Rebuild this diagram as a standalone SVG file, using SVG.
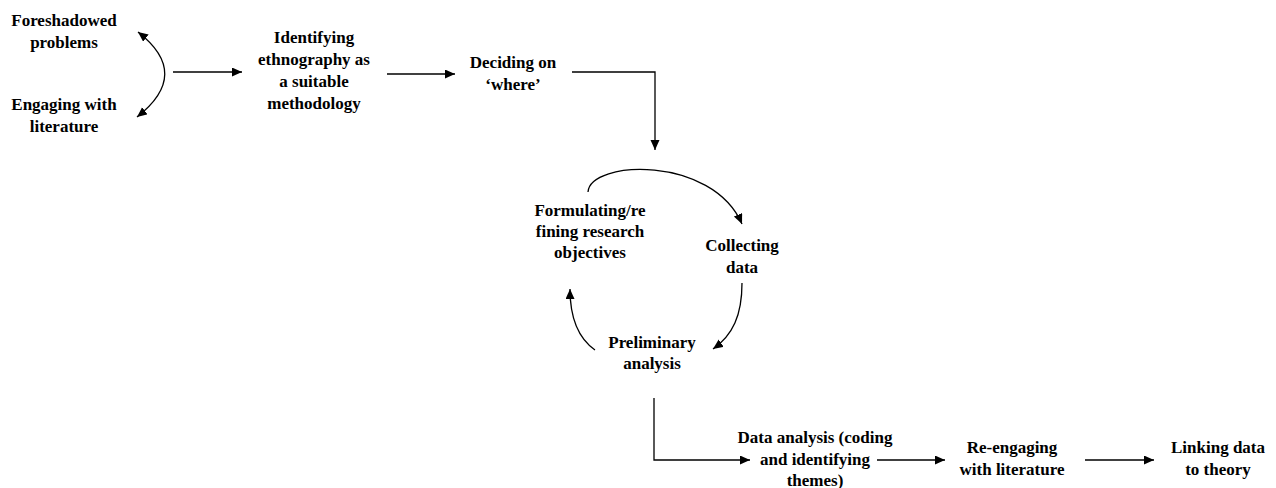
<svg xmlns="http://www.w3.org/2000/svg" width="1276" height="488" viewBox="0 0 1276 488">
  <style>
    text { font-family: "Liberation Serif", "Times New Roman", serif; font-size: 17px; font-weight: bold; fill: #000; text-anchor: middle; }
    .edge { fill: none; stroke: #000; stroke-width: 1.3; }
  </style>
  <defs>
    <marker id="head" markerUnits="userSpaceOnUse" markerWidth="11" markerHeight="10" refX="10" refY="4.5" orient="auto-start-reverse">
      <path d="M0,0 L10,4.5 L0,9 z" fill="#000"/>
    </marker>
  </defs>
  <rect width="1276" height="488" fill="#fff"/>

  <g id="connectors">
    <!-- two-way curve between the first two ideas -->
    <path class="edge" d="M138,32 Q192,74 137,117" marker-start="url(#head)" marker-end="url(#head)"/>
    <path class="edge" d="M173,72 L242,72" marker-end="url(#head)"/>
    <path class="edge" d="M387,74 L455,74" marker-end="url(#head)"/>
    <path class="edge" d="M572,72 L655,72 L655,150" marker-end="url(#head)"/>
    <!-- research cycle -->
    <path class="edge" d="M588,192 C590,160 712,155 742,224" marker-end="url(#head)"/>
    <path class="edge" d="M742,283 C742,315 733,335 713,349" marker-end="url(#head)"/>
    <path class="edge" d="M595,350 C578,338 570,318 570,289" marker-end="url(#head)"/>
    <!-- final stage -->
    <path class="edge" d="M654,398 L654,460 L750,460" marker-end="url(#head)"/>
    <path class="edge" d="M877,460 L945,460" marker-end="url(#head)"/>
    <path class="edge" d="M1085,460 L1154,460" marker-end="url(#head)"/>
  </g>

  <g id="foreshadowed">
    <text x="64" y="26">Foreshadowed</text>
    <text x="64" y="48">problems</text>
  </g>
  <g id="engaging">
    <text x="64" y="110">Engaging with</text>
    <text x="64" y="132">literature</text>
  </g>
  <g id="identifying">
    <text x="314" y="43">Identifying</text>
    <text x="314" y="65">ethnography as</text>
    <text x="314" y="87">a suitable</text>
    <text x="314" y="109">methodology</text>
  </g>
  <g id="deciding">
    <text x="513" y="68">Deciding on</text>
    <text x="513" y="90">‘where’</text>
  </g>
  <g id="formulating">
    <text x="590" y="216">Formulating/re</text>
    <text x="590" y="237">fining research</text>
    <text x="590" y="258">objectives</text>
  </g>
  <g id="collecting">
    <text x="742" y="251">Collecting</text>
    <text x="742" y="273">data</text>
  </g>
  <g id="preliminary">
    <text x="652" y="348">Preliminary</text>
    <text x="652" y="369">analysis</text>
  </g>
  <g id="data-analysis">
    <text x="815" y="443">Data analysis (coding</text>
    <text x="815" y="465">and identifying</text>
    <text x="815" y="486">themes)</text>
  </g>
  <g id="re-engaging">
    <text x="1012" y="453">Re-engaging</text>
    <text x="1012" y="475">with literature</text>
  </g>
  <g id="linking">
    <text x="1218" y="453">Linking data</text>
    <text x="1218" y="475">to theory</text>
  </g>
</svg>
